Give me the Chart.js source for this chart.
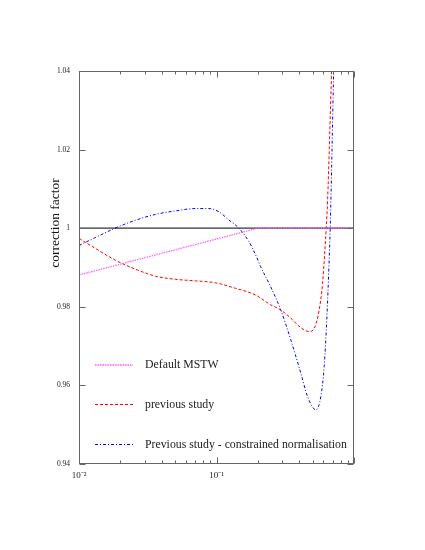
<!DOCTYPE html>
<html>
<head>
<meta charset="utf-8">
<script src="https://cdn.jsdelivr.net/npm/chart.js@4.4.1/dist/chart.umd.min.js"></script>
<style>
body { margin: 0; background: #fff; }
</style>
</head>
<body>
<canvas id="grafica" width="425" height="550"></canvas>
<script>
// valores
const xRed = [0.01, 0.0131, 0.0183, 0.0256, 0.0359, 0.0502, 0.0703, 0.0983, 0.1376, 0.1926, 0.2095, 0.2479, 0.2933, 0.3469, 0.4104, 0.4718, 0.5131, 0.5581, 0.5909, 0.6142, 0.6278, 0.6427, 0.6875, 0.72];
const yRed = [0.9974, 0.9949, 0.9919, 0.9896, 0.9878, 0.9870, 0.9866, 0.9861, 0.9847, 0.9830, 0.9822, 0.9805, 0.9792, 0.9771, 0.9747, 0.9737, 0.9745, 0.9792, 0.9860, 0.9944, 1.0, 1.0071, 1.04, 1.06];

const xBlue = [0.01, 0.0131, 0.0183, 0.0256, 0.0359, 0.0502, 0.0703, 0.0879, 0.1039, 0.1229, 0.1455, 0.1721, 0.1926, 0.2095, 0.2479, 0.2933, 0.3469, 0.4104, 0.4592, 0.528, 0.5742, 0.6071, 0.6355, 0.657, 0.6714, 0.711, 0.73];
const yBlue = [0.9956, 0.9976, 1.0, 1.002, 1.0035, 1.0044, 1.005, 1.005, 1.0042, 1.0021, 1.0, 0.9966, 0.9932, 0.9902, 0.9851, 0.9792, 0.9716, 0.9631, 0.9572, 0.9538, 0.9572, 0.9648, 0.9775, 0.9902, 1.0, 1.04, 1.06];

const xMag = [0.01, 0.2, 1];
const yMag = [0.9881, 1.0, 1.0];

const xRef = [0.01, 1];
const yRef = [1, 1];

const etiquetas = ['Default MSTW', 'previous study', 'Previous study - constrained normalisation'];
const colores = ['#ff55ff', '#ff0000', '#0000ff'];
const trazos = [[1.5, 1], [3, 2], [3, 2, 1, 2]];

const yTicks = [0.94, 0.96, 0.98, 1, 1.02, 1.04];
const yTickLabels = ['0.94', '0.96', '0.98', '1', '1.02', '1.04'];
const xMajor = [0.01, 0.1, 1];
const xMajorLabels = ['10\u207B\u00B2', '10\u207B\u00B9', ''];
const xMinor = [0.02, 0.03, 0.04, 0.05, 0.06, 0.07, 0.08, 0.09, 0.2, 0.3, 0.4, 0.5, 0.6, 0.7, 0.8, 0.9];

const serif = '"Liberation Serif", "Times New Roman", serif';

function puntos(xs, ys) {
    let out = [];
    for (let i = 0; i < xs.length; i++) {
        out.push({x: xs[i], y: ys[i]});
    }
    return out;
}

// marco, marcas hacia dentro, titulo y leyenda
const marco = {
    id: 'marco',
    afterDatasetsDraw(chart) {
        const ctx = chart.ctx;
        const a = chart.chartArea;
        const x = chart.scales.x;
        const y = chart.scales.y;
        ctx.save();
        ctx.strokeStyle = '#666';
        ctx.lineWidth = 1;
        const l = Math.round(a.left) + 0.5, r = Math.round(a.right) - 0.5;
        const t = Math.round(a.top) + 0.5, b = Math.round(a.bottom) - 0.5;
        ctx.strokeRect(l, t, r - l, b - t);
        ctx.beginPath();
        for (let v of yTicks) {
            const py = Math.round(y.getPixelForValue(v)) + 0.5;
            ctx.moveTo(l, py); ctx.lineTo(l + 6, py);
            ctx.moveTo(r, py); ctx.lineTo(r - 6, py);
        }
        for (let v of xMajor) {
            const px = Math.round(x.getPixelForValue(v)) + 0.5;
            ctx.moveTo(px, b); ctx.lineTo(px, b - 6);
            ctx.moveTo(px, t); ctx.lineTo(px, t + 6);
        }
        for (let v of xMinor) {
            const px = Math.round(x.getPixelForValue(v)) + 0.5;
            ctx.moveTo(px, b); ctx.lineTo(px, b - 3);
            ctx.moveTo(px, t); ctx.lineTo(px, t + 3);
        }
        ctx.stroke();

        // titulo del eje y
        ctx.fillStyle = '#111';
        ctx.font = '13.5px ' + serif;
        ctx.textAlign = 'center';
        ctx.textBaseline = 'middle';
        ctx.translate(55, 223);
        ctx.rotate(-Math.PI / 2);
        ctx.fillText('correction factor', 0, 0);
        ctx.restore();

        // leyenda dentro del area
        const filas = [365, 404.5, 444.5];
        ctx.save();
        ctx.font = '11.8px ' + serif;
        ctx.textAlign = 'left';
        ctx.textBaseline = 'middle';
        for (let i = 0; i < 3; i++) {
            ctx.strokeStyle = colores[i];
            ctx.lineWidth = i == 0 ? 1.5 : 1;
            ctx.setLineDash(trazos[i]);
            ctx.beginPath();
            ctx.moveTo(95, filas[i]);
            ctx.lineTo(133, filas[i]);
            ctx.stroke();
            ctx.fillStyle = '#222';
            ctx.fillText(etiquetas[i], 145, Math.round(filas[i]));
        }
        ctx.restore();
    }
};

const ctx = document.getElementById('grafica').getContext('2d');
const grafica = new Chart(ctx, {
    type: 'line',
    data: {
        datasets: [{
            label: etiquetas[0],
            data: puntos(xMag, yMag),
            borderColor: colores[0],
            borderWidth: 1.2,
            borderDash: trazos[0],
            tension: 0,
            order: 1
        }, {
            label: etiquetas[1],
            data: puntos(xRed, yRed),
            borderColor: colores[1],
            borderWidth: 1,
            borderDash: trazos[1],
            cubicInterpolationMode: 'monotone',
            order: 2
        }, {
            label: etiquetas[2],
            data: puntos(xBlue, yBlue),
            borderColor: colores[2],
            borderWidth: 1,
            borderDash: trazos[2],
            cubicInterpolationMode: 'monotone',
            order: 3
        }, {
            label: 'ref',
            data: puntos(xRef, yRef),
            borderColor: '#333',
            borderWidth: 1.3,
            tension: 0,
            order: 10
        }]
    },
    options: {
        responsive: false,
        animation: false,
        devicePixelRatio: 1,
        elements: { point: { radius: 0 } },
        layout: { padding: { top: 71, right: 71, left: 0, bottom: 0 } },
        plugins: {
            legend: { display: false },
            tooltip: { enabled: false }
        },
        scales: {
            x: {
                type: 'logarithmic',
                min: 0.01,
                max: 1,
                grid: { display: false, drawTicks: false },
                border: { display: false },
                afterBuildTicks(s) {
                    s.ticks = xMajor.concat(xMinor).map(v => ({value: v}));
                },
                afterFit(s) { s.height = 86; },
                ticks: {
                    autoSkip: false,
                    maxRotation: 0,
                    padding: 6,
                    color: '#222',
                    font: { family: serif, size: 9 },
                    callback: function (v) {
                        const i = xMajor.indexOf(v);
                        return i >= 0 ? xMajorLabels[i] : '';
                    }
                }
            },
            y: {
                min: 0.94,
                max: 1.04,
                grid: { display: false, drawTicks: false },
                border: { display: false },
                afterBuildTicks(s) {
                    s.ticks = yTicks.map(v => ({value: v}));
                },
                afterFit(s) { s.width = 79; },
                ticks: {
                    padding: 9,
                    color: '#222',
                    font: { family: serif, size: 7.5 },
                    callback: function (v, i) {
                        return yTickLabels[i];
                    }
                }
            }
        }
    },
    plugins: [marco]
});
</script>
</body>
</html>
